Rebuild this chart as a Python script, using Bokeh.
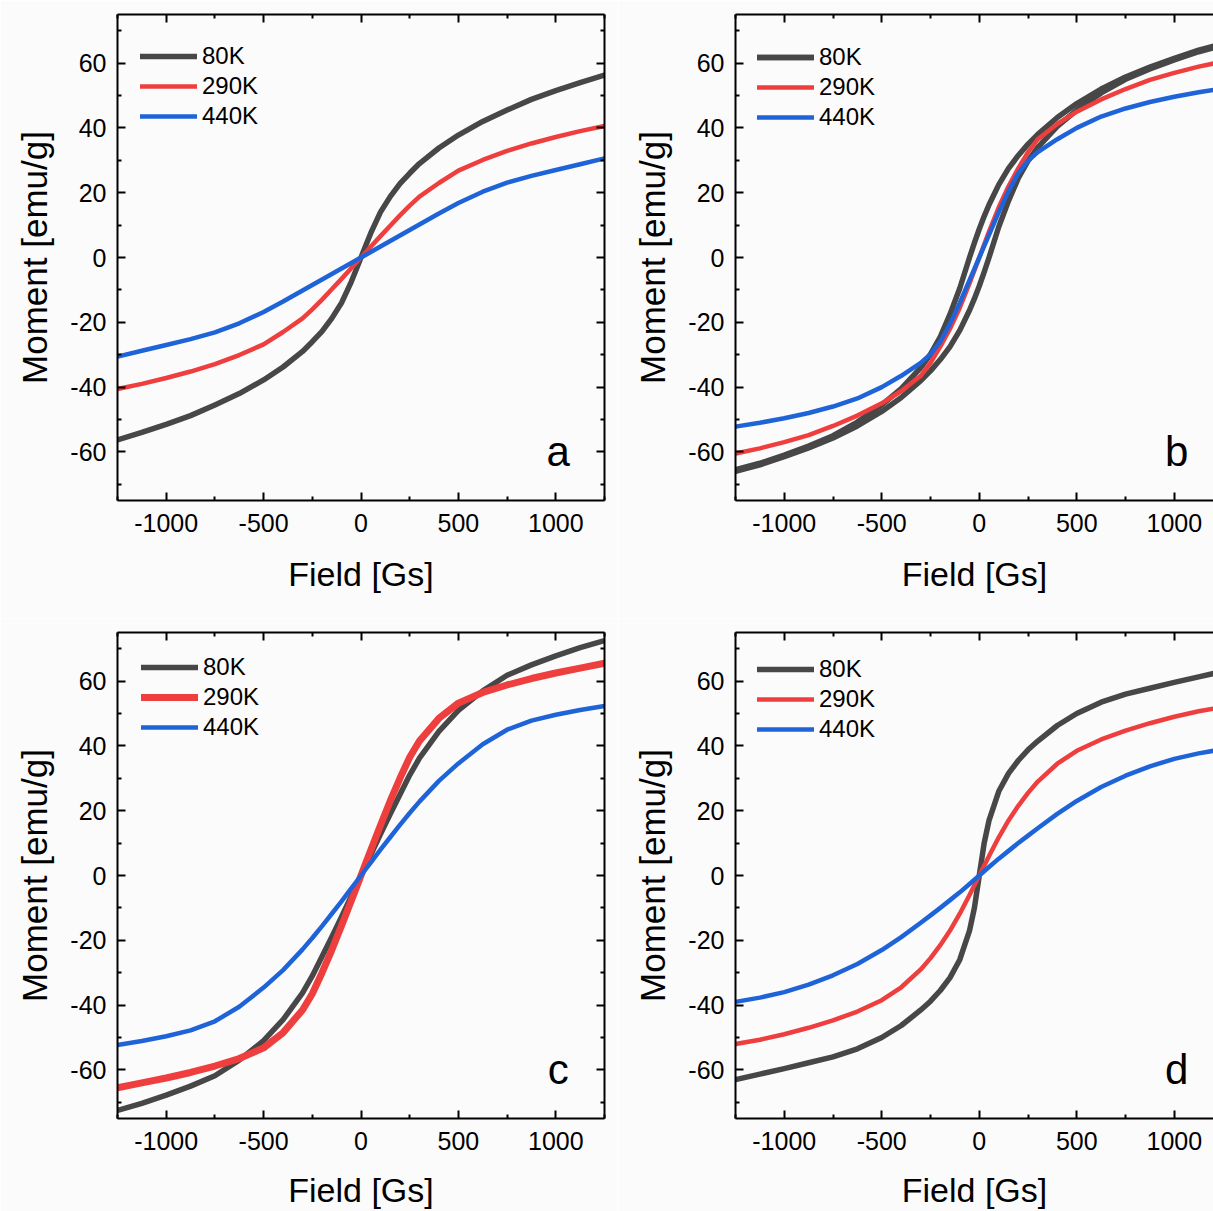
from bokeh.plotting import figure
from bokeh.models import LinearAxis, FixedTicker, Range1d, Legend, LegendItem, Label
from bokeh.layouts import gridplot
from bokeh.embed import file_html
from bokeh.resources import INLINE

# ---------------- data ----------------
FIELD = [-1250, -1125, -1000, -875, -750, -625, -500, -400, -300, -250, -200,
         -150, -100, -50, -25, 0, 25, 50, 100, 150, 200, 250, 300, 400, 500,
         625, 750, 875, 1000, 1125, 1250]

# panel a
A_80K = [-56.3, -54, -51.5, -48.8, -45.5, -42, -37.8, -33.8, -29, -26, -22.8,
         -18.8, -14, -7.5, -3.8, 0, 3.8, 7.5, 14, 18.8, 22.8, 26, 29, 33.8, 37.8,
         42, 45.5, 48.8, 51.5, 54, 56.3]
A_290K = [-40.6, -39, -37.2, -35.2, -32.9, -30.1, -26.8, -23, -18.8, -16, -13,
          -9.8, -6.6, -3.3, -1.65, 0, 1.65, 3.3, 6.6, 9.8, 13, 16, 18.8, 23, 26.8,
          30.1, 32.9, 35.2, 37.2, 39, 40.6]
A_440K = [-30.6, -28.8, -27, -25.2, -23.1, -20.3, -16.8, -13.6, -10.2, -8.5, -6.8,
          -5.1, -3.4, -1.7, -0.85, 0, 0.85, 1.7, 3.4, 5.1, 6.8, 8.5, 10.2, 13.6, 16.8,
          20.3, 23.1, 25.2, 27, 28.8, 30.6]

# panel b (80K shows a loop: descending and ascending branches)
B_80K_DOWN = [-65.5, -63.5, -61, -58.2, -55, -50.8, -45.5, -40.5, -34, -29.8, -24.5,
              -17.5, -9.5, 0, 4.5, 8.8, 12.7, 16.3, 22.5, 27.5, 31.5, 35, 38, 43.2, 47.5,
              52, 55.7, 58.8, 61.5, 64, 66]
B_80K_UP = [-66, -64, -61.5, -58.8, -55.7, -52, -47.5, -43.2, -38, -35, -31.5,
            -27.5, -22.5, -16.3, -12.7, -8.8, -4.5, 0, 9.5, 17.5, 24.5, 29.8, 34, 40.5, 45.5,
            50.8, 55, 58.2, 61, 63.5, 65.5]
B_290K = [-60.5, -58.9, -57, -54.8, -52, -48.8, -45, -41.2, -36.5, -32.5, -27.5,
          -22, -15.5, -8, -4, 0, 4, 8, 15.5, 22, 27.5, 32.5, 36.5, 41.2, 45,
          48.8, 52, 54.8, 57, 58.9, 60.5]
B_440K = [-52.2, -51, -49.6, -48, -46, -43.5, -40, -36.5, -32.5, -29.8, -26,
          -20.5, -14, -7, -3.5, 0, 3.5, 7, 14, 20.5, 26, 29.8, 32.5, 36.5, 40,
          43.5, 46, 48, 49.6, 51, 52.2]

# panel c
C_80K = [-72.5, -70.3, -67.8, -65, -61.8, -57, -51, -44.5, -36.2, -31, -25,
         -19, -12.8, -6.4, -3.2, 0, 3.2, 6.4, 12.8, 19, 25, 31, 36.2, 44.5, 51,
         57, 61.8, 65, 67.8, 70.3, 72.5]
C_290K = [-65.5, -64, -62.5, -60.8, -58.8, -56.5, -53.2, -48.5, -41.5, -36.5, -30,
          -23, -15.5, -7.8, -3.9, 0, 3.9, 7.8, 15.5, 23, 30, 36.5, 41.5, 48.5, 53.2,
          56.5, 58.8, 60.8, 62.5, 64, 65.5]
C_440K = [-52.3, -51.1, -49.6, -47.8, -45, -40.5, -34.6, -29.2, -22.8, -19.3, -15.6,
          -11.8, -8, -4, -2, 0, 2, 4, 8, 11.8, 15.6, 19.3, 22.8, 29.2, 34.6,
          40.5, 45, 47.8, 49.6, 51.1, 52.3]

# panel d
D_80K = [-63, -61.3, -59.6, -57.8, -56, -53.5, -50, -46.3, -41.5, -38.8, -35.5,
         -31.5, -26, -17, -10, 0, 10, 17, 26, 31.5, 35.5, 38.8, 41.5, 46.3, 50,
         53.5, 56, 57.8, 59.6, 61.3, 63]
D_290K = [-52, -50.7, -49, -47, -44.7, -42, -38.5, -34.5, -29, -25.5, -21.5,
          -17, -11.8, -6, -3, 0, 3, 6, 11.8, 17, 21.5, 25.5, 29, 34.5, 38.5,
          42, 44.7, 47, 49, 50.7, 52]
D_440K = [-39, -37.7, -36, -33.7, -30.8, -27.3, -23, -19, -14.6, -12.3, -10,
          -7.6, -5.2, -2.6, -1.3, 0, 1.3, 2.6, 5.2, 7.6, 10, 12.3, 14.6, 19, 23,
          27.3, 30.8, 33.7, 36, 37.7, 39]

TEMPS = ["80K", "290K", "440K"]
X_TICKS = [-1000, -500, 0, 500, 1000]
X_MINOR = [-1250, -750, -250, 250, 750, 1250]
X_LABELS = ["-1000", "-500", "0", "500", "1000"]
Y_TICKS = [-60, -40, -20, 0, 20, 40, 60]
Y_MINOR = [-70, -50, -30, -10, 10, 30, 50, 70]
Y_LABELS = ["-60", "-40", "-20", "0", "20", "40", "60"]
X_LIMITS = (-1250, 1250)
X_LIMIT_CUT = 1201       # right column is cut off by the picture edge
Y_LIMITS = (-75, 75)

# ---------------- style ----------------
COLORS = {"80K": "#474747", "290K": "#ef3e3e", "440K": "#1e64d8"}
WIDTHS = {"80K": 5.5, "290K": 4.5, "440K": 4.5}
BG = "#fbfbfb"
FONT = "Liberation Sans"


def style_axis(ax, ticks, minor, labels, show):
    ax.ticker = FixedTicker(ticks=ticks, minor_ticks=minor)
    ax.axis_line_width = 2
    ax.axis_line_color = "black"
    ax.major_tick_in = 8
    ax.major_tick_out = 0
    ax.minor_tick_in = 4
    ax.minor_tick_out = 0
    ax.major_tick_line_width = 2
    ax.minor_tick_line_width = 2
    ax.major_tick_line_color = "black"
    ax.minor_tick_line_color = "black"
    if show:
        ax.major_label_overrides = {t: s for t, s in zip(ticks, labels)}
        ax.major_label_text_font = FONT
        ax.major_label_text_font_size = "25px"
        ax.major_label_text_color = "black"
    else:
        ax.major_label_text_color = None
        ax.major_label_text_alpha = 0
        ax.major_label_text_font_size = "1px"
        ax.major_label_standoff = 0
        ax.axis_label = None


def make_panel(series, letter, cut_right, bottom_row, leg_x, leg_first, thick_red=False):
    width = 595 if cut_right else 618
    height = 593 if bottom_row else 618
    x_end = X_LIMIT_CUT if cut_right else X_LIMITS[1]
    p = figure(width=width, height=height,
               x_range=Range1d(X_LIMITS[0], x_end), y_range=Range1d(*Y_LIMITS),
               output_backend="svg", toolbar_location=None,
               x_axis_location=None, y_axis_location=None,
               min_border_left=117, min_border_right=0 if cut_right else 14,
               min_border_top=14, min_border_bottom=93 if bottom_row else 118,
               outline_line_color=None, background_fill_color=BG,
               border_fill_color=BG)
    p.xgrid.visible = False
    p.ygrid.visible = False

    bottom = LinearAxis(axis_label="Field [Gs]")
    style_axis(bottom, X_TICKS, X_MINOR, X_LABELS, True)
    bottom.major_label_standoff = 13
    bottom.axis_label_standoff = 18 if bottom_row else 20
    bottom.axis_label_text_font = FONT
    bottom.axis_label_text_font_size = "34px"
    bottom.axis_label_text_font_style = "normal"
    bottom.axis_label_text_color = "black"
    p.add_layout(bottom, "below")

    left = LinearAxis(axis_label="Moment [emu/g]")
    style_axis(left, Y_TICKS, Y_MINOR, Y_LABELS, True)
    left.major_label_standoff = 11
    left.axis_label_standoff = 13
    left.axis_label_text_font = FONT
    left.axis_label_text_font_size = "35px"
    left.axis_label_text_font_style = "normal"
    left.axis_label_text_color = "black"
    p.add_layout(left, "left")

    top = LinearAxis()
    style_axis(top, X_TICKS, X_MINOR, X_LABELS, False)
    p.add_layout(top, "above")
    if not cut_right:
        right = LinearAxis()
        style_axis(right, Y_TICKS, Y_MINOR, Y_LABELS, False)
        p.add_layout(right, "right")

    items = []
    for name, ys_list in series:
        lw = 7 if (thick_red and name == "290K") else WIDTHS[name]
        rends = [p.line(FIELD, ys, line_color=COLORS[name], line_width=lw,
                        line_join="round", line_cap="round") for ys in ys_list]
        items.append(LegendItem(label=name, renderers=rends))

    leg_h = 3 * 28 + 2 * 2
    vy = 486 - (leg_first - 14) - leg_h
    legend = Legend(items=items, location=(leg_x, vy), glyph_width=57,
                    glyph_height=28, label_height=28, spacing=2,
                    label_standoff=5, padding=0, margin=0,
                    background_fill_alpha=0, border_line_color=None,
                    label_text_font=FONT, label_text_font_size="24px",
                    label_text_color="black")
    p.add_layout(legend, "center")

    p.add_layout(Label(x=1012, y=-60, text=letter, text_align="center",
                       text_baseline="middle", text_font=FONT,
                       text_font_size="42px", text_color="black"))
    return p


pa = make_panel([("80K", [A_80K]), ("290K", [A_290K]), ("440K", [A_440K])],
                "a", False, False, 23, 42)
pb = make_panel([("80K", [B_80K_DOWN, B_80K_UP]), ("290K", [B_290K]), ("440K", [B_440K])],
                "b", True, False, 22, 43)
pc = make_panel([("80K", [C_80K]), ("290K", [C_290K]), ("440K", [C_440K])],
                "c", False, True, 24, 35, thick_red=True)
pd_ = make_panel([("80K", [D_80K]), ("290K", [D_290K]), ("440K", [D_440K])],
                 "d", True, True, 22, 37)

grid = gridplot([[pa, pb], [pc, pd_]], toolbar_location=None)
open("out.html", "w").write(file_html(grid, INLINE))
